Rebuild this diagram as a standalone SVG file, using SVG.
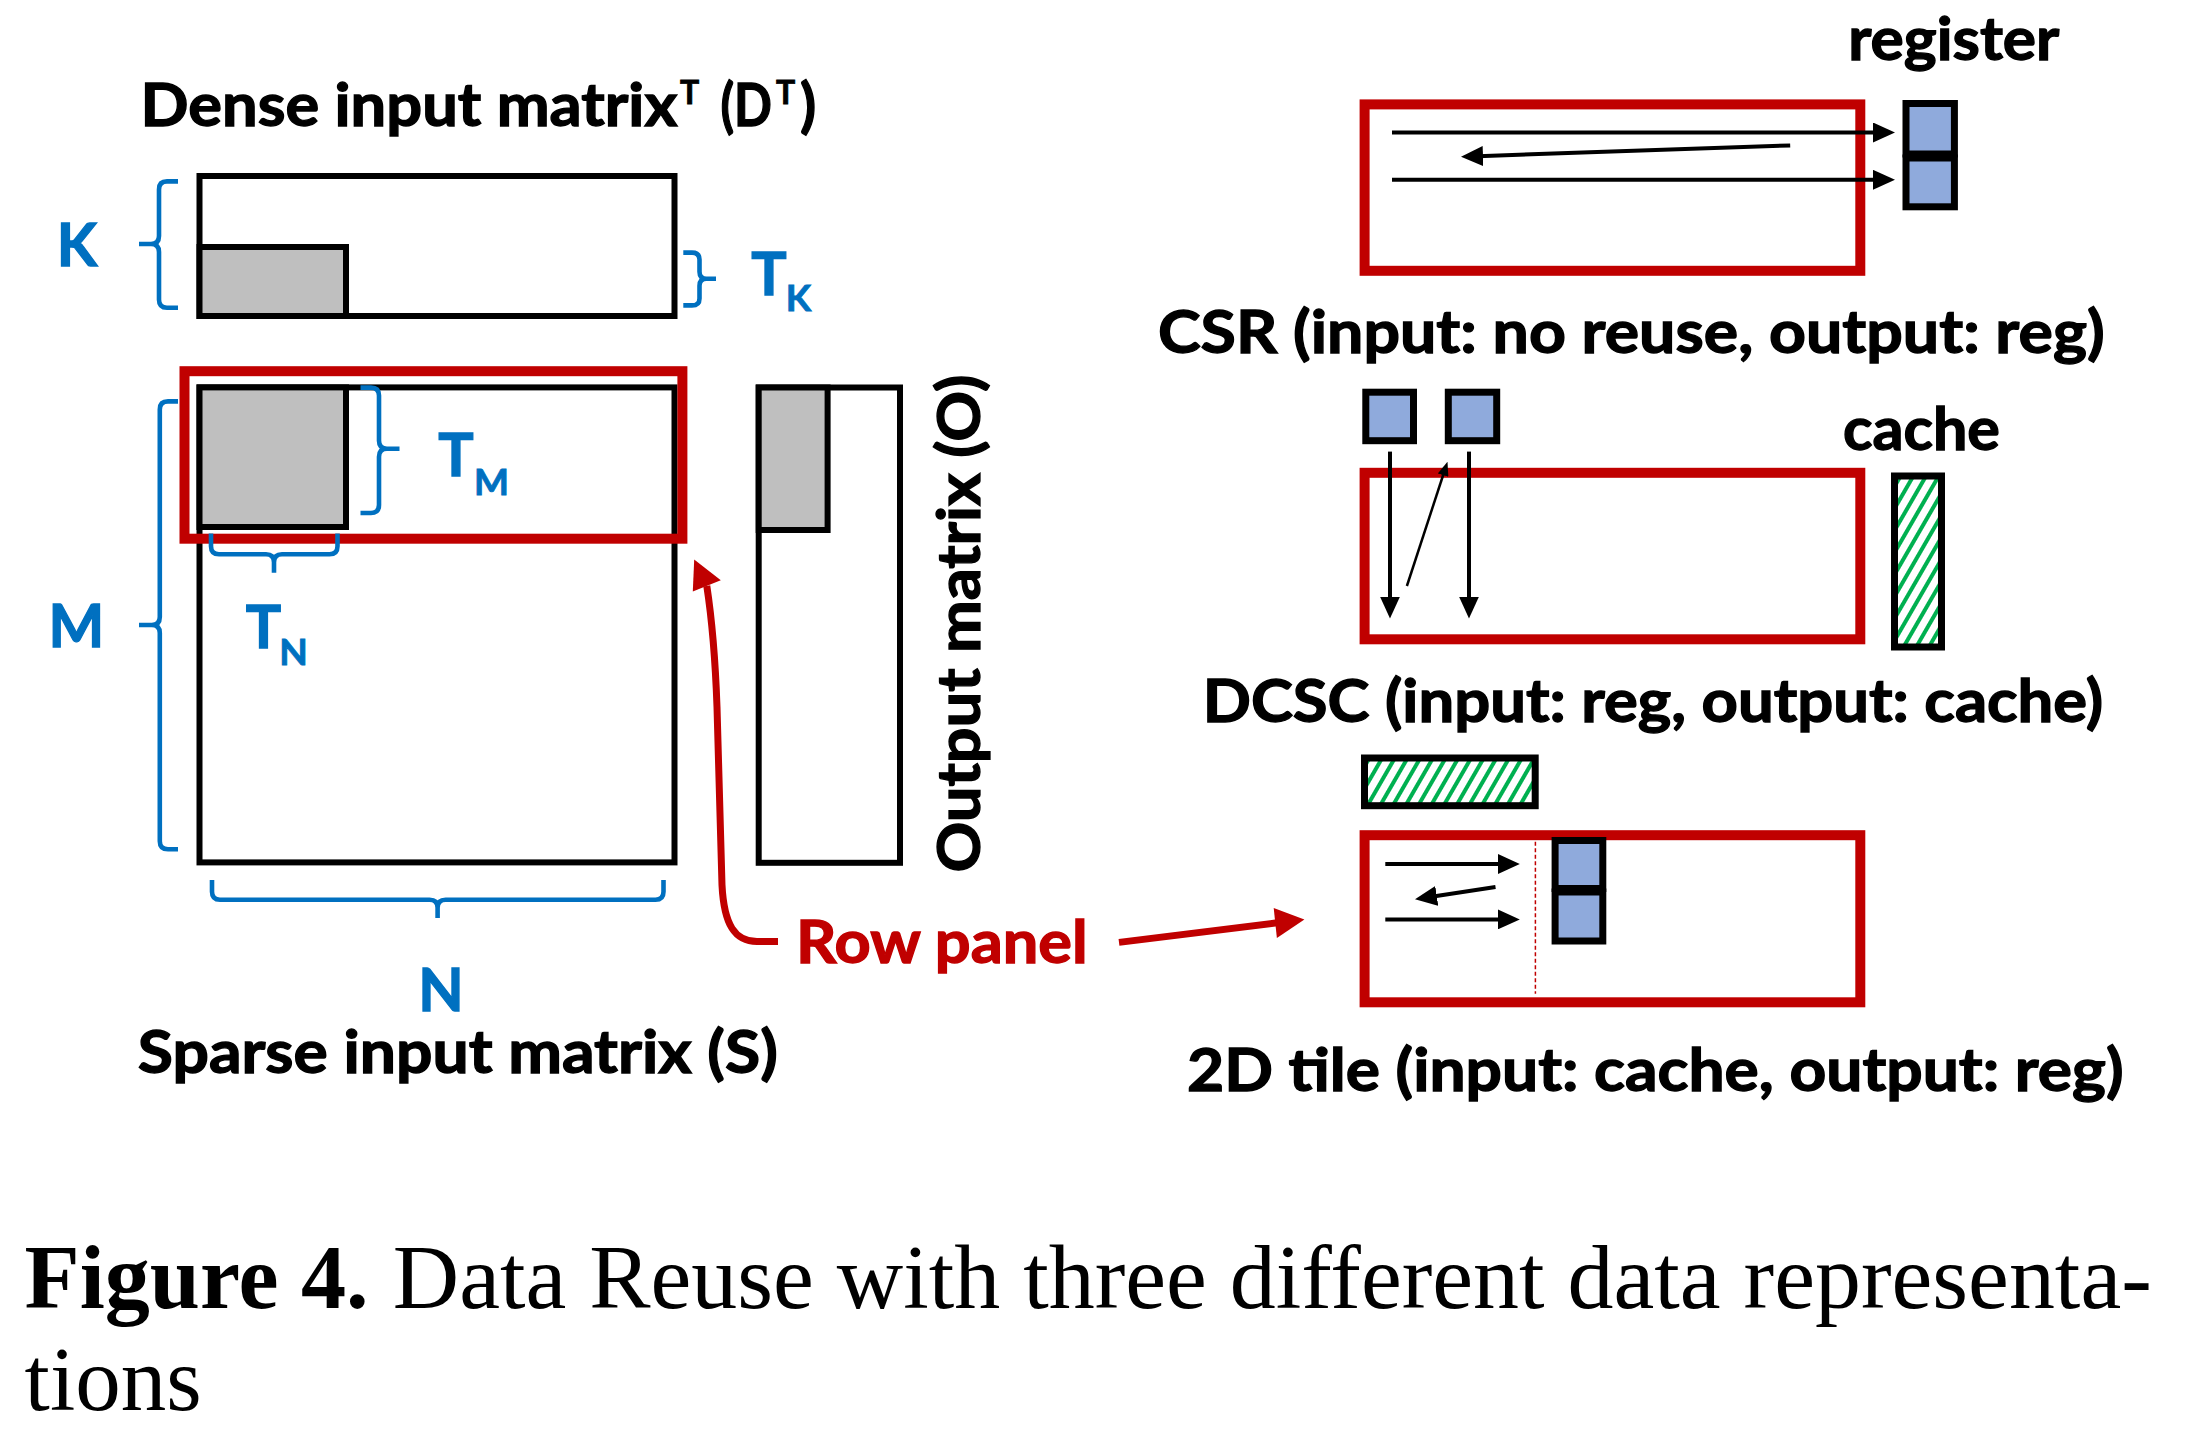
<svg xmlns="http://www.w3.org/2000/svg" width="2210" height="1432" viewBox="0 0 2210 1432">
<style>
.lbl{font-family:Lato,'Open Sans','Liberation Sans',sans-serif;font-weight:700;font-size:59px;fill:#000;stroke:#000;stroke-width:1.3px}
.blue{fill:#0070C0;stroke:#0070C0}
.sub{font-size:37px;stroke-width:0.9px}
.sup{font-size:32px;stroke-width:0.8px}
.red{fill:#C00000;stroke:#C00000}
.mat{fill:#fff;stroke:#000;stroke-width:6}
.tile{fill:#BFBFBF;stroke:#000;stroke-width:6}
.panel{fill:none;stroke:#C00000;stroke-width:10}
.reg{fill:#8FAADC;stroke:#000;stroke-width:7}
.cache{fill:url(#hatch);stroke:#000;stroke-width:7}
.brace{fill:none;stroke:#0070C0;stroke-width:4.6;stroke-linejoin:round;stroke-linecap:butt}
.arr{stroke:#000;stroke-width:4;fill:none}
.arrs{stroke:#000;stroke-width:2.5;fill:none}
.rarr{stroke:#C00000;stroke-width:7;fill:none}
.rhead{fill:#C00000}
.cap{font-family:'Liberation Serif',serif;font-size:91px;fill:#000}
.dash{stroke:#C00000;stroke-width:1.5;stroke-dasharray:4 2.5;fill:none}
</style>
<defs>
<pattern id="hatch" patternUnits="userSpaceOnUse" width="11" height="11" patternTransform="rotate(30)">
<rect width="11" height="11" fill="#fff"/>
<line x1="3" y1="0" x2="3" y2="11" stroke="#00B050" stroke-width="4"/>
</pattern>
<marker id="ah" markerUnits="userSpaceOnUse" viewBox="0 0 22 20" markerWidth="22" markerHeight="20" refX="12" refY="10" orient="auto"><path d="M0,0 L22,10 L0,20 z" fill="#000"/></marker>
<marker id="ahs" markerUnits="userSpaceOnUse" viewBox="0 0 14 11" markerWidth="14" markerHeight="11" refX="7" refY="5.5" orient="auto"><path d="M0,0 L14,5.5 L0,11 z" fill="#000"/></marker>
</defs>
<rect x="0" y="0" width="2210" height="1432" fill="#fff"/>

<g id="dense-matrix">
<text class="lbl" x="140.6" y="126.3" textLength="536.8" lengthAdjust="spacingAndGlyphs">Dense input matrix</text>
<text class="lbl sup" x="680" y="104">T</text>
<text class="lbl" x="720.4" y="126.3" textLength="51.6" lengthAdjust="spacingAndGlyphs">(D</text>
<text class="lbl sup" x="776" y="104">T</text>
<text class="lbl" x="800" y="126.3">)</text>
<rect class="mat" x="199.5" y="176" width="475" height="140"/>
<rect class="tile" x="199.5" y="247" width="146.5" height="69"/>
<path class="brace" d="M178,181.4 H167 Q159,181.4 159,189.4 V236 Q159,244 151,244 H139 M151,244 Q159,244 159,252 V299.7 Q159,307.7 167,307.7 H178"/>
<text class="lbl blue" x="77" y="266" text-anchor="middle">K</text>
<path class="brace" d="M683.3,252.6 H692 Q699.5,252.6 699.5,259.6 V271.8 Q699.5,278.8 706.5,278.8 H716 M706.5,278.8 Q699.5,278.8 699.5,285.8 V298.4 Q699.5,305.4 692,305.4 H683.3"/>
<text class="lbl blue" x="769" y="294.6" text-anchor="middle">T</text>
<text class="lbl blue sub" x="798.5" y="311.4" text-anchor="middle">K</text>
</g>

<g id="sparse-matrix">
<rect class="mat" x="199.5" y="387.4" width="475" height="475"/>
<rect class="tile" x="199.5" y="387.4" width="146.5" height="139.6"/>
<text class="lbl" x="137.8" y="1073.4" textLength="640" lengthAdjust="spacingAndGlyphs">Sparse input matrix (S)</text>
</g>

<g id="row-panel">
<rect class="panel" x="184.5" y="371.2" width="497.9" height="167.5"/>
</g>

<g id="dimension-braces">
<path class="brace" d="M178,401.4 H168 Q159.8,401.4 159.8,409.4 V617 Q159.8,625 151.8,625 H139 M151.8,625 Q159.8,625 159.8,633 V841.3 Q159.8,849.3 168,849.3 H178"/>
<text class="lbl blue" x="76.3" y="647" text-anchor="middle">M</text>
<path class="brace" d="M360.5,387.6 H371 Q379,387.6 379,395.6 V440.7 Q379,448.7 387,448.7 H399.5 M387,448.7 Q379,448.7 379,456.7 V505 Q379,513 371,513 H360.5"/>
<text class="lbl blue" x="456" y="476.2" text-anchor="middle">T</text>
<text class="lbl blue sub" x="491.5" y="494.6" text-anchor="middle">M</text>
<path class="brace" d="M211,533.6 V546.3 Q211,554.3 219,554.3 H266 Q274,554.3 274,562.3 V572.7 M274,562.3 Q274,554.3 282,554.3 H329.5 Q337.5,554.3 337.5,546.3 V533.6"/>
<text class="lbl blue" x="263.4" y="648.4" text-anchor="middle">T</text>
<text class="lbl blue sub" x="293.5" y="664.5" text-anchor="middle">N</text>
<path class="brace" d="M212,880 V891.8 Q212,899.8 220,899.8 H429.6 Q437.6,899.8 437.6,907.8 V918 M437.6,907.8 Q437.6,899.8 445.6,899.8 H655.5 Q663.5,899.8 663.5,891.8 V880"/>
<text class="lbl blue" x="441" y="1011" text-anchor="middle">N</text>
</g>

<g id="output-matrix">
<rect class="mat" x="758.7" y="387.5" width="141.3" height="475.3"/>
<rect class="tile" x="758.7" y="387.5" width="68.9" height="142.5"/>
<text class="lbl" transform="translate(979.8,872.6) rotate(-90)" textLength="498" lengthAdjust="spacingAndGlyphs">Output matrix (O)</text>
</g>

<g id="row-panel-label">
<text class="lbl red" x="796" y="963.1" textLength="291.7" lengthAdjust="spacingAndGlyphs">Row panel</text>
</g>

<g id="csr">
<text class="lbl" x="1848.3" y="59.5" textLength="211" lengthAdjust="spacingAndGlyphs">register</text>
<rect class="panel" x="1364.6" y="104.4" width="495.7" height="166.4"/>
<rect class="reg" x="1906" y="103.5" width="48.4" height="50.5"/>
<rect class="reg" x="1906" y="158" width="48.4" height="48.8"/>
<text class="lbl" x="1158" y="352.9" textLength="946.6" lengthAdjust="spacingAndGlyphs">CSR (input: no reuse, output: reg)</text>
</g>

<g id="dcsc">
<rect class="reg" x="1365.8" y="392.2" width="47.7" height="48.5"/>
<rect class="reg" x="1448.3" y="392.2" width="48.4" height="48.5"/>
<text class="lbl" x="1843" y="449.6" textLength="157" lengthAdjust="spacingAndGlyphs">cache</text>
<rect class="panel" x="1364.6" y="472.8" width="495.7" height="166.5"/>
<rect class="cache" x="1894.5" y="476" width="47" height="171"/>
<text class="lbl" x="1202.7" y="722" textLength="900.5" lengthAdjust="spacingAndGlyphs">DCSC (input: reg, output: cache)</text>
</g>

<g id="tile-2d">
<rect class="cache" x="1364.5" y="758" width="170.7" height="47.7"/>
<rect class="panel" x="1364.6" y="835.2" width="495.7" height="167.1"/>
<line class="dash" x1="1535.4" y1="841.7" x2="1535.4" y2="993.8"/>
<rect class="reg" x="1555.1" y="840.5" width="47.7" height="48"/>
<rect class="reg" x="1555.1" y="892" width="47.7" height="49"/>
<text class="lbl" x="1187" y="1091" textLength="936.5" lengthAdjust="spacingAndGlyphs">2D tile (input: cache, output: reg)</text>
</g>

<g id="connectors">
<line class="arr" x1="1392" y1="132.5" x2="1885" y2="132.5" marker-end="url(#ah)"/>
<line class="arr" x1="1790.2" y1="145.4" x2="1471" y2="156.45" marker-end="url(#ah)"/>
<line class="arr" x1="1392" y1="179.8" x2="1885" y2="179.8" marker-end="url(#ah)"/>
<line class="arr" x1="1390" y1="451.6" x2="1390" y2="608.6" marker-end="url(#ah)"/>
<line class="arrs" x1="1406.9" y1="586" x2="1445.3" y2="468.5" marker-end="url(#ahs)"/>
<line class="arr" x1="1469" y1="451.6" x2="1469" y2="608.6" marker-end="url(#ah)"/>
<line class="arr" x1="1385.3" y1="864" x2="1509.8" y2="864" marker-end="url(#ah)"/>
<line class="arr" x1="1495.5" y1="887" x2="1424.9" y2="897.7" marker-end="url(#ah)"/>
<line class="arr" x1="1385.3" y1="919.4" x2="1509.8" y2="919.4" marker-end="url(#ah)"/>
<path class="rarr" d="M778,941.5 L757,941.5 C735,941.5 724,925 722,885 L717,707 C715,650 712,620 706.8,585.9"/>
<polygon class="rhead" points="694.2,559.5 692.8,591.6 720.8,580.2"/>
<line class="rarr" x1="1119" y1="942.4" x2="1277" y2="922.8"/>
<polygon class="rhead" points="1304.4,919.5 1273.7,908 1276.9,937.9"/>
</g>

<g id="caption">
<text class="cap" x="24.6" y="1308" font-weight="700" textLength="344" lengthAdjust="spacingAndGlyphs">Figure 4.</text>
<text class="cap" x="392.8" y="1308" textLength="1759" lengthAdjust="spacingAndGlyphs">Data Reuse with three different data representa-</text>
<text class="cap" x="24.6" y="1410">tions</text>
</g>
</svg>
